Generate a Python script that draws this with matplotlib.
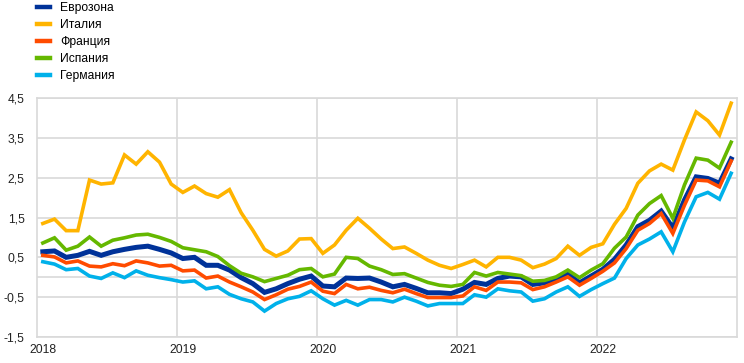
import matplotlib
matplotlib.use("Agg")
import matplotlib.pyplot as plt
import numpy as np

plt.rcParams["font.family"] = ["Liberation Sans", "DejaVu Sans"]
plt.rcParams["axes.unicode_minus"] = False

# 配色 (ECB)
PALETTE = {
    "ez": "#003299",
    "it": "#FFB400",
    "fr": "#FF4B00",
    "es": "#65B800",
    "de": "#00B1EA",
    "grid": "#D9D9D9",
}

years = ["2018", "2019", "2020", "2021", "2022"]
labels = ["Еврозона", "Италия", "Франция", "Испания", "Германия"]

# monthly values, Jan 2018 .. Dec 2022
eurozone = [0.64, 0.66, 0.50, 0.55, 0.65, 0.55, 0.64, 0.70, 0.75, 0.78, 0.70, 0.61,
            0.47, 0.50, 0.30, 0.30, 0.18, -0.01, -0.16, -0.38, -0.29, -0.16, -0.05, 0.03,
            -0.22, -0.24, -0.02, -0.03, -0.02, -0.12, -0.24, -0.18, -0.28, -0.39, -0.39, -0.41,
            -0.30, -0.13, -0.18, -0.03, 0.03, 0.01, -0.18, -0.14, -0.03, 0.08, -0.14, 0.03,
            0.20, 0.45, 0.81, 1.27, 1.43, 1.66, 1.24, 1.94, 2.52, 2.48, 2.36, 2.97]
italy = [1.35, 1.46, 1.17, 1.17, 2.44, 2.34, 2.37, 3.07, 2.84, 3.15, 2.89, 2.34,
         2.13, 2.29, 2.10, 2.01, 2.20, 1.62, 1.18, 0.70, 0.53, 0.66, 0.96, 0.97,
         0.60, 0.81, 1.18, 1.48, 1.23, 0.96, 0.72, 0.76, 0.60, 0.43, 0.30, 0.22,
         0.32, 0.43, 0.26, 0.50, 0.50, 0.43, 0.24, 0.33, 0.47, 0.78, 0.55, 0.75,
         0.84, 1.33, 1.73, 2.36, 2.67, 2.84, 2.69, 3.45, 4.15, 3.93, 3.57, 4.37]
france = [0.55, 0.51, 0.36, 0.41, 0.28, 0.26, 0.34, 0.29, 0.41, 0.36, 0.28, 0.30,
          0.16, 0.18, -0.02, 0.03, -0.12, -0.24, -0.37, -0.56, -0.44, -0.30, -0.23, -0.12,
          -0.35, -0.41, -0.18, -0.29, -0.25, -0.33, -0.39, -0.30, -0.41, -0.51, -0.51, -0.51,
          -0.47, -0.24, -0.33, -0.12, -0.12, -0.14, -0.31, -0.24, -0.12, 0.01, -0.20, -0.03,
          0.15, 0.36, 0.72, 1.18, 1.35, 1.60, 1.10, 1.81, 2.44, 2.42, 2.27, 2.92]
spain = [0.86, 0.99, 0.68, 0.78, 1.01, 0.78, 0.93, 0.99, 1.06, 1.08, 1.00, 0.90,
         0.74, 0.69, 0.64, 0.52, 0.29, 0.10, 0.01, -0.11, -0.03, 0.05, 0.19, 0.22,
         0.01, 0.08, 0.50, 0.47, 0.28, 0.19, 0.07, 0.09, -0.02, -0.13, -0.20, -0.23,
         -0.18, 0.12, 0.03, 0.12, 0.08, 0.04, -0.10, -0.08, 0.01, 0.18, -0.01, 0.18,
         0.34, 0.73, 1.01, 1.56, 1.85, 2.05, 1.48, 2.32, 2.99, 2.94, 2.74, 3.39]
germany = [0.39, 0.33, 0.19, 0.22, 0.03, -0.03, 0.11, -0.01, 0.16, 0.05, -0.01, -0.06,
           -0.12, -0.09, -0.29, -0.24, -0.43, -0.54, -0.62, -0.85, -0.66, -0.54, -0.48, -0.34,
           -0.54, -0.70, -0.58, -0.70, -0.56, -0.56, -0.62, -0.50, -0.60, -0.72, -0.66, -0.66,
           -0.66, -0.44, -0.50, -0.29, -0.34, -0.37, -0.60, -0.54, -0.37, -0.24, -0.48, -0.31,
           -0.16, -0.02, 0.47, 0.81, 0.96, 1.14, 0.64, 1.39, 2.02, 2.13, 1.96, 2.61]

yticks = [-1.5, -0.5, 0.5, 1.5, 2.5, 3.5, 4.5]

fig = plt.figure(figsize=(7.44, 3.63), dpi=100)
ax = fig.add_axes([37 / 744, 1 - 337 / 363, 700 / 744, 239 / 363])

x = np.arange(len(eurozone)) + 0.5
series = [
    (eurozone, "ez", 3.6),
    (italy, "it", 2.6),
    (france, "fr", 2.6),
    (spain, "es", 2.6),
    (germany, "de", 2.6),
]
lines = []
for (vals, key, lw), lab in zip(series, labels):
    (ln,) = ax.plot(x, vals, color=PALETTE[key], lw=lw, label=lab,
                    solid_joinstyle="miter", zorder=3)
    lines.append(ln)

ax.set_xlim(0, 60)
ax.set_ylim(-1.5, 4.5)

# grid
ax.set_xticks([12, 24, 36, 48], minor=True)
ax.grid(True, which="minor", axis="x", color=PALETTE["grid"], lw=1.2)
ax.set_yticks(yticks)
ax.set_yticklabels([f"{v:.1f}".replace(".", ",") for v in yticks])
ax.grid(True, which="major", axis="y", color=PALETTE["grid"], lw=1.2)
ax.axhline(0, color=PALETTE["grid"], lw=1.2, zorder=1)
ax.set_xticks(np.arange(5) * 12 + 0.5)
ax.set_xticklabels(years)
ax.tick_params(axis="both", which="both", length=0, labelsize=8.7, colors="#222222")
ax.tick_params(axis="y", pad=9)
ax.tick_params(axis="x", pad=5)
for sp in ax.spines.values():
    sp.set_color(PALETTE["grid"])
    sp.set_linewidth(1.2)
ax.set_axisbelow(True)

leg = fig.legend(
    handles=lines,
    labels=labels,
    loc="upper left",
    bbox_to_anchor=(37 / 744, 1 - 2 / 363),
    frameon=False,
    fontsize=8.7,
    handlelength=1.1,
    handletextpad=0.8,
    labelspacing=0.41,
    borderpad=0,
    borderaxespad=0,
)
for h in leg.get_lines():
    h.set_linewidth(3.2)

fig.savefig("out.png", dpi=100)
